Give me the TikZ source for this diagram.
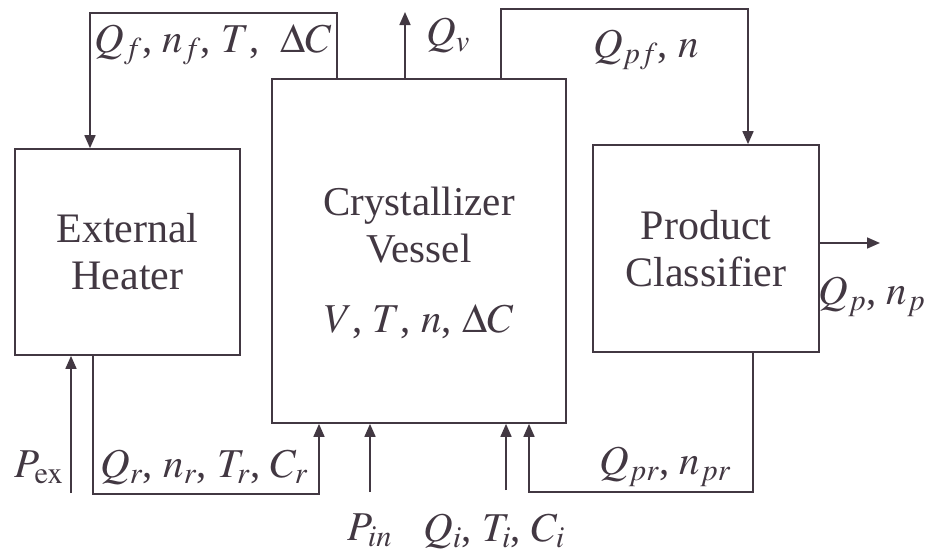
\documentclass[tikz,border=0pt]{standalone}
\usepackage{mathptmx}
\usepackage{fontspec}
\setmainfont{Liberation Serif}
\usetikzlibrary{positioning, arrows.meta}
\definecolor{ink}{RGB}{66,56,66}

\begin{document}
\begin{tikzpicture}[x=1pt, y=-1pt,
    unit/.style={
        draw=ink,
        line width=1.7pt,
        align=center,
        text=ink,
        inner sep=0pt,
        font=\fontsize{42}{47}\selectfont,
    },
    flow/.style={draw=ink, line width=1.7pt, -{Triangle[length=13pt, width=11pt]}},
    lbl/.style={text=ink, inner sep=0pt, font=\fontsize{41}{47}\selectfont}
]
\useasboundingbox (0,0) rectangle (927,555);

\node[unit, minimum width=225pt, minimum height=206pt] (EH) at (127.5,252) {External\\Heater};
\node[unit, minimum width=294pt, minimum height=344pt] (CV) at (419,251) {};
\node[unit, minimum width=226pt, minimum height=207pt] (PC) at (706,248.5) {Product\\Classifier};

\node[lbl, align=center] (cvname) at (419,225) {Crystallizer\\Vessel};
\node[lbl] (cvstate) at (419,322) {$V$, $T$, $n$, $\Delta C$};

% corners of the loops
\coordinate (fTR) at (337,13);
\coordinate (fTL) at (90,13);
\coordinate (pTL) at (501,9);
\coordinate (pTR) at (748,9);
\coordinate (rBL) at (93,494);
\coordinate (rBR) at (319,494);
\coordinate (cBR) at (753,492);
\coordinate (cBL) at (529,492);
% free ends
\coordinate (vapour) at (405,12);
\coordinate (product) at (880,243);
\coordinate (pex) at (71,493);
\coordinate (pin) at (370,492);
\coordinate (feed) at (506,490);

\draw[flow] (CV.north -| fTR) -- (fTR) -- (fTL) -- (EH.north -| fTL);
\draw[flow] (CV.north -| pTL) -- (pTL) -- (pTR) -- (PC.north -| pTR);
\draw[flow] (EH.south -| rBL) -- (rBL) -- (rBR) -- (CV.south -| rBR);
\draw[flow] (PC.south -| cBR) -- (cBR) -- (cBL) -- (CV.south -| cBL);
\draw[flow] (pex) -- (EH.south -| pex);
\draw[flow] (pin) -- (CV.south -| pin);
\draw[flow] (feed) -- (CV.south -| feed);
\draw[flow] (CV.north -| vapour) -- (vapour);
\draw[flow] (PC.east |- product) -- (product);

\node[lbl] (lf) at (213,45) {$Q_f$, $n_f$, $T$,\ \ $\Delta C$};
\node[lbl] (lv) at (448,35) {$Q_v$};
\node[lbl] (lpf) at (646,50) {$Q_{pf}$, $n$};
\node[lbl] (lp) at (872,297) {$Q_p$, $n_p$};
\node[lbl] (lex) at (39,467) {$P_{\mathrm{ex}}$};
\node[lbl] (lr) at (204,467) {$Q_r$, $n_r$, $T_r$, $C_r$};
\node[lbl] (lin) at (370,530) {$P_{in}$};
\node[lbl] (li) at (494,531) {$Q_i$, $T_i$, $C_i$};
\node[lbl] (lpr) at (665,467) {$Q_{pr}$, $n_{pr}$};
\end{tikzpicture}
\end{document}
